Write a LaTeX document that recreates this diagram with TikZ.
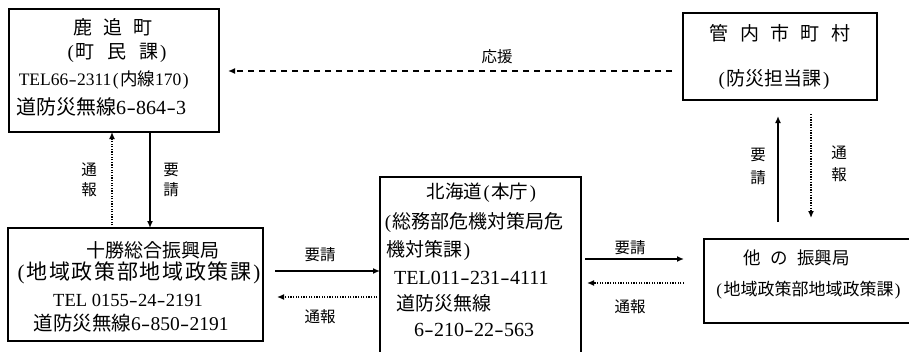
\documentclass[tikz,border=0pt]{standalone}
\usepackage{graphicx}
\usepackage{fontspec}
\setmainfont{Liberation Serif}
\newfontfamily\jp{Noto Sans CJK JP}
\usetikzlibrary{arrows.meta}
\newcommand\J[1]{{\jp #1}}
\newcommand\fs[1]{\fontsize{#1}{#1}\selectfont}
\newcommand\hy{\makebox[0.5em]{\scalebox{1.4}[1]{-}}}
\newcommand\lp{\makebox[0.5em]{(}}
\newcommand\rp{\makebox[0.5em]{)}}
\begin{document}
\begin{tikzpicture}[x=1pt,y=-1pt,
 box/.style={draw,line width=1.2pt,rectangle,inner sep=0pt,outer sep=0pt},
 txt/.style={inner sep=0pt},
 lab/.style={inner sep=0pt,font=\jp\fs{15.5}},
 tip/.style={-{Latex[length=7pt,width=6pt]}},
 solidarr/.style={tip,line width=1.4pt},
 dotarr/.style={tip,line width=1.3pt,dash pattern=on 1.3pt off 1.3pt},
 dasharr/.style={tip,line width=1.4pt,dash pattern=on 6pt off 5pt},
]
\clip (0,0) rectangle (909,351);
\fill[white] (0,0) rectangle (909,351);

% boxes
\node[box,minimum width=210pt,minimum height=123pt] (b1) at (114,70.5) {};
\node[box,minimum width=194pt,minimum height=87pt] (b2) at (780,56.5) {};
\node[box,minimum width=255pt,minimum height=113pt] (b3) at (135.5,284.5) {};
\node[box,minimum width=201pt,minimum height=193pt] (b4) at (480.5,273.5) {};
\node[box,minimum width=221pt,minimum height=84pt] (b5) at (814.5,281) {};

% box 1 text
\node[txt,font=\fs{19}] (t1a) at (113,27) {\J{鹿\hspace{0.6em}追\hspace{0.6em}町}};
\node[txt,font=\fs{19}] (t1b) at (117,53) {\lp\J{町\hspace{0.68em}民\hspace{0.68em}課}\rp};
\node[txt,font=\fs{17.5}] (t1c) at (104.5,80) {TEL66\hy2311\lp\J{内線}170\rp};
\node[txt,font=\fs{20},anchor=west] (t1d) at (16,107) {\J{道防災無線}6\hy864\hy3};

% box 2 text
\node[txt,font=\fs{19}] (t2a) at (780,33) {\J{管\hspace{0.6em}内\hspace{0.6em}市\hspace{0.6em}町\hspace{0.6em}村}};
\node[txt,font=\fs{19}] (t2b) at (774,80) {\lp\J{防災担当課}\rp};

% box 3 text
\node[txt,font=\fs{19}] (t3a) at (153,250) {\J{十勝総合振興局}};
\node[txt,font=\fs{21}] (t3b) at (139,273) {\addfontfeature{LetterSpace=8}\lp\J{\addfontfeature{LetterSpace=8}地域政策部地域政策課}\rp};
\node[txt,font=\fs{18.5}] (t3c) at (128,300) {TEL 0155\hy24\hy2191};
\node[txt,font=\fs{19.5}] (t3d) at (131,323) {\J{道防災無線}6\hy850\hy2191};

% box 4 text
\node[txt,font=\fs{18.5}] (t4a) at (482,193) {\J{北海道}\lp\J{本庁}\rp};
\node[txt,font=\fs{19},anchor=west] (t4b) at (383,222) {\lp\J{総務部危機対策局危}};
\node[txt,font=\fs{19},anchor=west] (t4c) at (386,250) {\J{機対策課}\rp};
\node[txt,font=\fs{20},anchor=west] (t4d) at (394,278) {TEL011\hy231\hy4111};
\node[txt,font=\fs{19},anchor=west] (t4e) at (396,303) {\J{道防災無線}};
\node[txt,font=\fs{20}] (t4f) at (474,330) {6\hy210\hy22\hy563};

% box 5 text
\node[txt,font=\fs{17.5}] (t5a) at (796.5,258) {\J{他\hspace{0.55em}の\hspace{0.55em}振興局}};
\node[txt,font=\fs{17}] (t5b) at (808.5,290) {\lp\J{地域政策部地域政策課}\rp};

% helper coordinates
\coordinate (x112) at (112,0);
\coordinate (x150) at (150,0);
\coordinate (ouenS) at (672,71);
\coordinate (ouenE) at (228,71);
\coordinate (reqLs) at (275,271);
\coordinate (y271) at (0,271);
\coordinate (y297) at (0,297);
\coordinate (notLe) at (277,297);
\coordinate (y259) at (0,259);
\coordinate (reqRe) at (684,259);
\coordinate (notRs) at (684,283);
\coordinate (y283) at (0,283);
\coordinate (reqUs) at (778,222);
\coordinate (reqUe) at (778,116);
\coordinate (notDs) at (811,114);
\coordinate (notDe) at (811,218);

% connectors
\draw[dasharr] (ouenS) -- (ouenE);
\draw[dotarr] (b3.north -| x112) -- (b1.south -| x112);
\draw[solidarr] (b1.south -| x150) -- (b3.north -| x150);
\draw[solidarr] (reqLs) -- (b4.west |- y271);
\draw[dotarr] (b4.west |- y297) -- (notLe);
\draw[solidarr,shorten <=4pt] (b4.east |- y259) -- (reqRe);
\draw[dotarr,shorten >=6pt] (notRs) -- (b4.east |- y283);
\draw[solidarr] (reqUs) -- (reqUe);
\draw[dotarr] (notDs) -- (notDe);

% labels
\node[lab] (l1) at (497,57) {応援};
\node[lab] (l2a) at (89,170) {通};
\node[lab] (l2b) at (89,190) {報};
\node[lab] (l3a) at (171,170) {要};
\node[lab] (l3b) at (171,190) {請};
\node[lab] (l4) at (320,255) {要請};
\node[lab] (l5) at (320,317) {通報};
\node[lab] (l6) at (630,248) {要請};
\node[lab] (l7) at (630,307) {通報};
\node[lab] (l8a) at (758,155) {要};
\node[lab] (l8b) at (758,178) {請};
\node[lab] (l9a) at (839,153) {通};
\node[lab] (l9b) at (839,175) {報};
\end{tikzpicture}
\end{document}
